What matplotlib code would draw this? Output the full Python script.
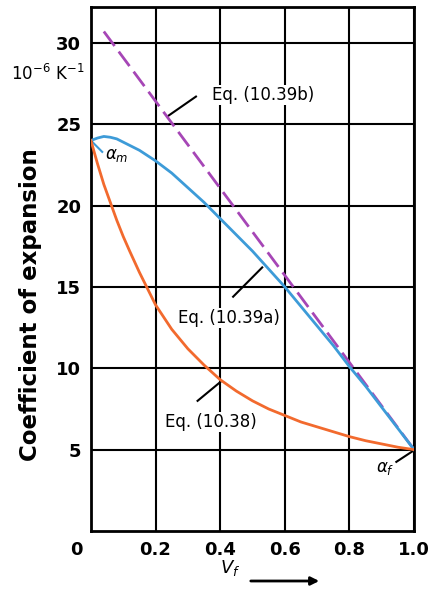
import matplotlib
matplotlib.use("Agg")
import matplotlib.pyplot as plt
import numpy as np

# fibre volume fraction
vf_b = [0.04, 1.0]
alpha_b = [30.7, 5.0]  # Eq. (10.39b)

vf_a = [0.0, 0.02, 0.04, 0.06, 0.08, 0.1, 0.15, 0.2, 0.25, 0.3, 0.35, 0.4, 0.45, 0.5,
        0.55, 0.6, 0.65, 0.7, 0.75, 0.8, 0.85, 0.9, 0.95, 1.0]
alpha_a = [24.0, 24.15, 24.25, 24.2, 24.1, 23.9, 23.4, 22.75, 22.0, 21.1, 20.2, 19.2, 18.2, 17.2,
           16.1, 15.0, 13.8, 12.6, 11.4, 10.1, 8.9, 7.6, 6.3, 5.0]  # Eq. (10.39a)

vf_c = [0.0, 0.02, 0.04, 0.06, 0.08, 0.1, 0.12, 0.15, 0.2, 0.25, 0.3, 0.35, 0.4, 0.45, 0.5,
        0.55, 0.6, 0.65, 0.7, 0.75, 0.8, 0.85, 0.9, 0.95, 1.0]
alpha_c = [24.0, 22.6, 21.3, 20.2, 19.1, 18.1, 17.2, 15.9, 13.9, 12.4, 11.2, 10.2, 9.3, 8.6, 8.0,
           7.5, 7.1, 6.7, 6.4, 6.1, 5.8, 5.55, 5.35, 5.15, 5.0]  # Eq. (10.38)

xticks = [0.2, 0.4, 0.6, 0.8, 1.0]
xticklabels = ["0.2", "0.4", "0.6", "0.8", "1.0"]
yticks = [5, 10, 15, 20, 25, 30]

plt.rcParams['font.family'] = ['DejaVu Sans']

fig = plt.figure(figsize=(4.35, 5.91), dpi=100)
ax = fig.add_axes([0.209, 0.1015, 0.743, 0.8865])

ax.plot(vf_b, alpha_b, color='#a646b6', lw=2, ls=(0, (6.5, 2.5)), zorder=6)
ax.plot(vf_a, alpha_a, color='#3d9bd8', lw=2, zorder=6)
ax.plot(vf_c, alpha_c, color='#f26a2e', lw=2, zorder=6)

ax.set_xlim(0, 1.0)
ax.set_ylim(0, 32.2)
ax.set_xticks(xticks)
ax.set_xticklabels(xticklabels)
ax.set_yticks(yticks)
ax.tick_params(length=0, labelsize=13, pad=7)
for lab in ax.get_xticklabels() + ax.get_yticklabels():
    lab.set_fontweight('bold')
ax.grid(True, color='black', lw=1.5)
for s in ax.spines.values():
    s.set_linewidth(2)

# "0" at origin
ax.text(-0.045, -0.02, "0", transform=ax.transAxes, ha='center', va='top',
        fontsize=13, fontweight='bold')

ax.set_ylabel("Coefficient of expansion", fontsize=16.5, fontweight='bold')
ax.yaxis.set_label_coords(-0.15, 0.433)
ax.text(-0.02, 28.1, "$10^{-6}$ K$^{-1}$", ha='right', va='center', fontsize=12)

# x label with arrow
fig.text(0.529, 0.022, "$V_f$", ha='center', va='bottom', fontsize=13)
fig.add_artist(matplotlib.patches.FancyArrowPatch((248 / 435, 1 - 581 / 591), (322 / 435, 1 - 581 / 591),
                                                  transform=fig.transFigure, arrowstyle='-|>',
                                                  mutation_scale=12, lw=2, color='black'))

# annotations
box = dict(facecolor='white', edgecolor='none', pad=1.0)
ax.plot([0.238, 0.325], [25.5, 26.7], color='black', lw=1.5)
ax.text(0.375, 26.8, "Eq. (10.39b)", fontsize=12, va='center', ha='left', bbox=box, zorder=5)

ax.plot([0.44, 0.53], [14.4, 16.2], color='black', lw=1.5)
ax.text(0.27, 13.1, "Eq. (10.39a)", fontsize=12, va='center', ha='left', bbox=box, zorder=5)

ax.plot([0.33, 0.40], [8.0, 9.15], color='black', lw=1.5)
ax.text(0.23, 6.7, "Eq. (10.38)", fontsize=12, va='center', ha='left', bbox=box, zorder=5)

ax.plot([0.0, 0.035], [24.0, 23.3], color='#3d9bd8', lw=1.5)
ax.text(0.045, 23.1, r"$\alpha_m$", fontsize=12, va='center', ha='left')

ax.plot([0.945, 0.995], [4.25, 4.9], color='black', lw=1.5)
ax.text(0.91, 3.9, r"$\alpha_f$", fontsize=12, va='center', ha='center')

fig.savefig("out.png", dpi=100)
